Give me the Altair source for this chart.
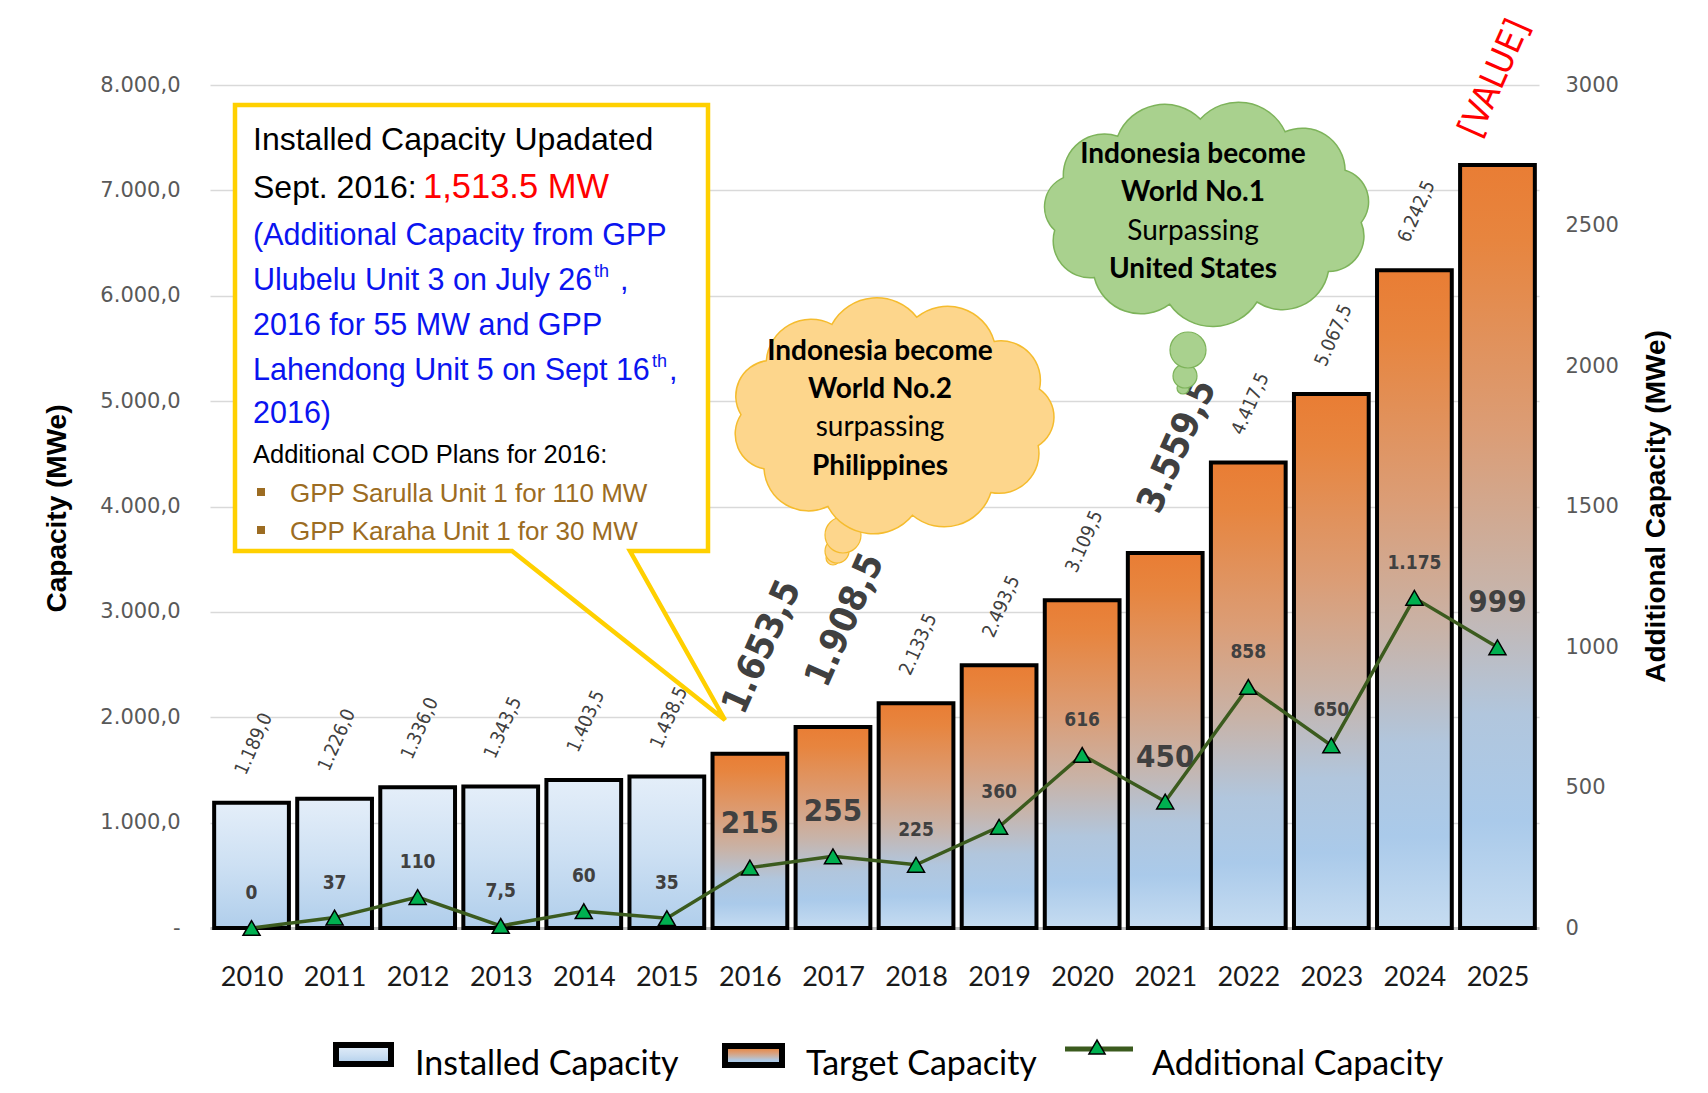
import math
import altair as alt
import pandas as pd

# ---------------- data ----------------
years = list(range(2010, 2026))
capacity = [1189.0, 1226.0, 1336.0, 1343.5, 1403.5, 1438.5, 1653.5, 1908.5,
            2133.5, 2493.5, 3109.5, 3559.5, 4417.5, 5067.5, 6242.5, 7241.5]
additional = [0, 37, 110, 7.5, 60, 35, 215, 255, 225, 360, 616, 450, 858, 650, 1175, 999]
status = ["Installed"] * 6 + ["Target"] * 10
big_cap_years = [2016, 2017, 2021]
value_year = 2025
big_add_years = [2016, 2017, 2021, 2025]
left_ticks = [0, 1000, 2000, 3000, 4000, 5000, 6000, 7000, 8000]
right_ticks = [0, 500, 1000, 1500, 2000, 2500, 3000]


def eu(v, dec):
    s = f"{v:,.{dec}f}"
    return s.replace(",", "#").replace(".", ",").replace("#", ".")


cap_labels = [eu(v, 1) for v in capacity]
cap_labels[-1] = "[VALUE]"
add_labels = [eu(v, 0 if float(v).is_integer() else 1) for v in additional]
cap_style = ["value" if y == value_year else ("big" if y in big_cap_years else "small") for y in years]
add_style = ["big" if y in big_add_years else "small" for y in years]

df = pd.DataFrame({
    "year": years, "capacity": capacity, "additional": additional, "status": status,
    "cap_label": cap_labels, "add_label": add_labels,
    "cap_style": cap_style, "add_style": add_style,
})
one = pd.DataFrame({"k": [0]})

# ---------------- styles ----------------
NARROW = "'Liberation Sans', Arial, sans-serif"
COND = "'DejaVu Sans Condensed', 'DejaVu Sans', sans-serif"
CAL = "Lato, 'Open Sans', sans-serif"
W, H = 1329, 843

xs = alt.Scale(domain=[2009.5, 2025.5], nice=False, zero=False)
yL = alt.Scale(domain=[0, 8000], nice=False)
yR = alt.Scale(domain=[0, 3000], nice=False)

grad_inst = alt.LinearGradient(
    gradient="linear", x1=0, x2=0, y1=0, y2=1,
    stops=[alt.GradientStop(offset=0, color="#E4EEF9"),
           alt.GradientStop(offset=0.5, color="#CDE0F3"),
           alt.GradientStop(offset=1, color="#B0CEEB")])
grad_tgt = alt.LinearGradient(
    gradient="linear", x1=0, x2=0, y1=0, y2=1,
    stops=[alt.GradientStop(offset=0, color="#E97D34"),
           alt.GradientStop(offset=0.1, color="#E7853F"),
           alt.GradientStop(offset=0.35, color="#DB9D76"),
           alt.GradientStop(offset=0.55, color="#C8B3A8"),
           alt.GradientStop(offset=0.72, color="#B1C6DD"),
           alt.GradientStop(offset=0.86, color="#AACAEA"),
           alt.GradientStop(offset=1, color="#C6DCF1")])

left_expr = ("datum.value == 0 ? '-\u00a0\u00a0\u00a0' : "
             "replace(replace(replace(format(datum.value, ',.1f'), ',', '#'), '.', ','), '#', '.')")

left_axis = alt.Axis(
    orient="left", values=left_ticks, labelExpr=left_expr, labelFont="DejaVu Sans",
    labelFontSize=21, labelColor="#595959", labelPadding=30, ticks=False, tickSize=0,
    domain=False, grid=True, gridColor="#D9D9D9", gridWidth=1.3,
    title="Capacity (MWe)", titleFont="Liberation Sans", titleFontSize=28,
    titleFontWeight="bold", titleColor="black", titleAngle=270, titleX=-153, titleY=423,
    titleAlign="center", titleBaseline="middle")

right_axis = alt.Axis(
    orient="right", values=right_ticks, format="d", labelFont="DejaVu Sans",
    labelFontSize=21, labelColor="#595959", labelPadding=26, ticks=False, tickSize=0,
    domain=False, grid=False,
    title="Additional Capacity (MWe)", titleFont="Liberation Sans", titleFontSize=28,
    titleFontWeight="bold", titleColor="black", titleAngle=270, titleX=117, titleY=421,
    titleAlign="center", titleBaseline="middle")

# the same year axis is given to every layer so that the shared axis merges cleanly
x_axis = alt.Axis(
    orient="bottom", values=years, format="d", labelFont=CAL, labelFontSize=27,
    labelColor="#1a1a1a", labelPadding=36, ticks=False, tickSize=0, domain=True,
    domainColor="#BFBFBF", domainWidth=3, grid=False, title=None, labelOverlap=False,
    labelFlush=False)

base = alt.Chart(df)

bars_inst = base.transform_filter("datum.status == 'Installed'").transform_calculate(
    x0="datum.year - 0.45", x1="datum.year + 0.45"
).mark_bar(color=grad_inst, stroke="black", strokeWidth=4).encode(
    x=alt.X("x0:Q", scale=xs, axis=x_axis), x2="x1:Q",
    y=alt.Y("capacity:Q", scale=yL, axis=left_axis), y2=alt.datum(0))

bars_tgt = base.transform_filter("datum.status == 'Target'").transform_calculate(
    x0="datum.year - 0.45", x1="datum.year + 0.45"
).mark_bar(color=grad_tgt, stroke="black", strokeWidth=4).encode(
    x=alt.X("x0:Q", scale=xs, axis=x_axis), x2="x1:Q",
    y=alt.Y("capacity:Q", scale=yL, axis=None), y2=alt.datum(0))


def cap_text(style, size, weight, color, dx, dy, font):
    return base.transform_filter(f"datum.cap_style == '{style}'").mark_text(
        angle=294, align="left", baseline="middle", dx=dx, dy=dy, font=font,
        fontSize=size, fontWeight=weight, color=color
    ).encode(x=alt.X("year:Q", scale=xs, axis=x_axis),
             y=alt.Y("capacity:Q", scale=yL, axis=None), text="cap_label:N")


cap_small = cap_text("small", 19, "normal", "#404040", 22, -22, COND)
cap_big = cap_text("big", 37, "bold", "#404040", 32, -32, COND)
cap_val = cap_text("value", 35, "normal", "#FF0000", 16, -38, COND)

line = base.mark_line(color="#3B5B1E", strokeWidth=3.5).encode(
    x=alt.X("year:Q", scale=xs, axis=x_axis),
    y=alt.Y("additional:Q", scale=yR, axis=right_axis))

pts = base.mark_point(shape="triangle-up", filled=True, fill="#00B050", stroke="black",
                      strokeWidth=1.5, size=290, opacity=1).encode(
    x=alt.X("year:Q", scale=xs, axis=x_axis),
    y=alt.Y("additional:Q", scale=yR, axis=None))


def add_text(style, size, dy):
    return base.transform_filter(f"datum.add_style == '{style}'").mark_text(
        align="center", baseline="middle", dy=dy, font=COND, fontSize=size,
        fontWeight="bold", color="#404040"
    ).encode(x=alt.X("year:Q", scale=xs, axis=x_axis),
             y=alt.Y("additional:Q", scale=yR, axis=None), text="add_label:N")


add_small = add_text("small", 19, -35)
add_big = add_text("big", 31, -44)


# ---------------- annotations (pixel positions inside the plot area) ----------------
def txt(s, x, y, size, color="black", font=NARROW, weight="normal", align="left",
        baseline="alphabetic"):
    return alt.Chart(one).mark_text(
        text=s, font=font, fontSize=size, fontWeight=weight, color=color,
        align=align, baseline=baseline).encode(x=alt.value(x), y=alt.value(y))


def shape(path, fill, stroke, sw):
    return alt.Chart(one).mark_point(
        shape=path, size=4, filled=True, fill=fill, stroke=stroke, strokeWidth=sw,
        opacity=1, strokeJoin="miter").encode(x=alt.value(0), y=alt.value(0))


def circle(x, y, r, fill, stroke):
    return alt.Chart(one).mark_point(
        shape="circle", size=(2 * r) ** 2, filled=True, fill=fill, stroke=stroke,
        strokeWidth=1.2, opacity=1).encode(x=alt.value(x), y=alt.value(y))


def cloud_path(cx, cy, rx, ry, n, phase=0.0):
    p = []
    for i in range(n):
        t = phase + 2 * math.pi * i / n
        p.append((cx + rx * math.cos(t), cy + ry * math.sin(t)))
    d = "M{:.1f},{:.1f}".format(*p[0])
    for i in range(n):
        a, b = p[i], p[(i + 1) % n]
        r = 0.6 * math.dist(a, b)
        d += " A{:.1f},{:.1f} 0 0 1 {:.1f},{:.1f}".format(r, r, b[0], b[1])
    return d + " Z"


callout = shape("M25,20 L498,20 L498,466 L420,466 L515,635 L302,466 L25,466 Z",
                "white", "#FFD000", 4.5)

BLUE = "#0A14F0"
BROWN = "#9C6C22"
box_texts = [
    txt("Installed Capacity Upadated", 43, 65, 32),
    txt("Sept. 2016:", 43, 113, 32),
    txt("1,513.5 MW", 213, 113, 34.5, color="#FF0000"),
    txt("(Additional Capacity from GPP", 43, 160, 30.5, color=BLUE),
    txt("Ulubelu Unit 3 on July 26", 43, 205, 30.5, color=BLUE),
    txt("th", 384, 192, 18, color=BLUE),
    txt(",", 410, 205, 30.5, color=BLUE),
    txt("2016 for 55 MW and GPP", 43, 250, 30.5, color=BLUE),
    txt("Lahendong Unit 5 on Sept 16", 43, 295, 30.5, color=BLUE),
    txt("th", 442, 282, 18, color=BLUE),
    txt(",", 459, 295, 30.5, color=BLUE),
    txt("2016)", 43, 338, 30.5, color=BLUE),
    txt("Additional COD Plans for 2016:", 43, 378, 25.5),
    txt("GPP Sarulla Unit 1 for 110 MW", 80, 417, 26, color=BROWN),
    txt("GPP Karaha Unit 1 for 30 MW", 80, 455, 26, color=BROWN),
]
bullets = alt.Chart(pd.DataFrame({"bx": [51, 51], "by": [407, 445]})).mark_point(
    shape="square", size=64, filled=True, fill=BROWN, opacity=1, strokeWidth=0
).encode(x=alt.X("bx:Q", scale=None), y=alt.Y("by:Q", scale=None))

OR_FILL, OR_STROKE = "#FDD68C", "#F5BC2E"
GR_FILL, GR_STROKE = "#A9D18E", "#7DB35A"
orange_cloud = [
    circle(623, 473, 7, OR_FILL, OR_STROKE),
    circle(627, 466, 12, OR_FILL, OR_STROKE),
    circle(633, 450, 18, OR_FILL, OR_STROKE),
    shape(cloud_path(683, 331, 152, 100, 11, 0.3), OR_FILL, OR_STROKE, 1.5),
    txt("Indonesia become", 670, 267, 28, font=CAL, weight="bold", align="center", baseline="middle"),
    txt("World No.2", 670, 305, 28, font=CAL, weight="bold", align="center", baseline="middle"),
    txt("surpassing", 670, 343, 28, font=CAL, weight="normal", align="center", baseline="middle"),
    txt("Philippines", 670, 382, 28, font=CAL, weight="bold", align="center", baseline="middle"),
]
green_cloud = [
    circle(973, 303, 6, GR_FILL, GR_STROKE),
    circle(975, 291, 12, GR_FILL, GR_STROKE),
    circle(978, 265, 18, GR_FILL, GR_STROKE),
    shape(cloud_path(997, 128, 155, 94, 11, 0.1), GR_FILL, GR_STROKE, 1.5),
    txt("Indonesia become", 983, 70, 28, font=CAL, weight="bold", align="center", baseline="middle"),
    txt("World No.1", 983, 108, 28, font=CAL, weight="bold", align="center", baseline="middle"),
    txt("Surpassing", 983, 147, 28, font=CAL, weight="normal", align="center", baseline="middle"),
    txt("United States", 983, 185, 28, font=CAL, weight="bold", align="center", baseline="middle"),
]

# ---------------- legend ----------------
leg_inst = alt.Chart(one).mark_rect(color=grad_inst, stroke="black", strokeWidth=6).encode(
    x=alt.value(126), x2=alt.value(181), y=alt.value(960), y2=alt.value(979))
leg_tgt = alt.Chart(one).mark_rect(color=grad_tgt, stroke="black", strokeWidth=6).encode(
    x=alt.value(515), x2=alt.value(572), y=alt.value(961), y2=alt.value(980))
leg_line = alt.Chart(one).mark_rule(color="#3B5B1E", strokeWidth=5).encode(
    x=alt.value(855), x2=alt.value(923), y=alt.value(964))
leg_pt = alt.Chart(one).mark_point(shape="triangle-up", filled=True, fill="#00B050",
                                   stroke="black", strokeWidth=1.5, size=260, opacity=1).encode(
    x=alt.value(887), y=alt.value(962))
leg_texts = [
    txt("Installed Capacity", 205, 990, 34, font=CAL),
    txt("Target Capacity", 596, 990, 34, font=CAL),
    txt("Additional Capacity", 942, 990, 34, font=CAL),
]

layers = [bars_inst, bars_tgt, line, cap_small, cap_big, cap_val, pts, add_small, add_big,
          callout, *box_texts, bullets, *orange_cloud, *green_cloud,
          leg_inst, leg_tgt, leg_line, leg_pt, *leg_texts]

chart = alt.layer(*layers).resolve_scale(y="independent").properties(
    width=W, height=H,
    autosize=alt.AutoSizeParams(type="none"),
    padding={"left": 202, "top": 77, "right": 161, "bottom": 157},
    background="white",
).configure_view(stroke="transparent")

chart.save("out.html", embed_options={"renderer": "svg", "actions": False})
